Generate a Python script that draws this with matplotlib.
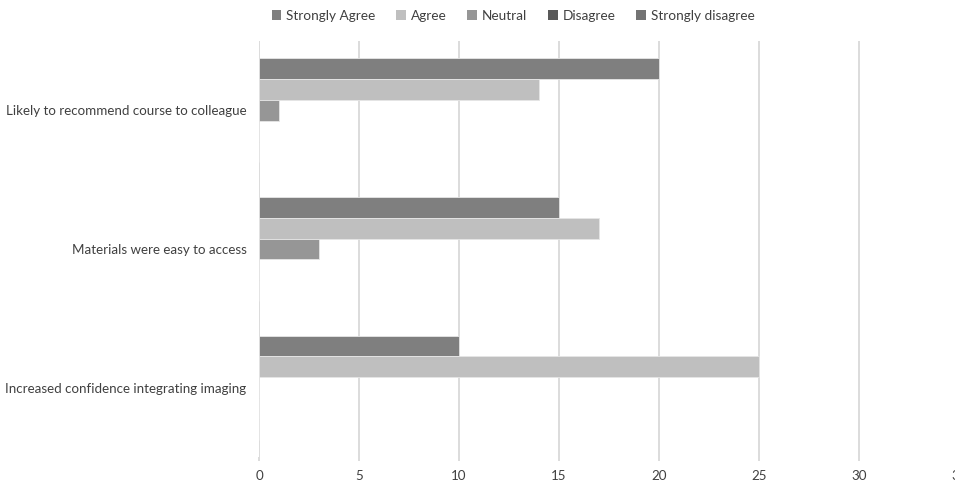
import matplotlib
matplotlib.use("Agg")
import matplotlib.pyplot as plt
import numpy as np

plt.rcParams['font.family'] = ['Lato', 'DejaVu Sans']

categories = [
    "Likely to recommend course to colleague",
    "Materials were easy to access",
    "Increased confidence integrating imaging",
]
series_names = ["Strongly Agree", "Agree", "Neutral", "Disagree", "Strongly disagree"]
strongly_agree = [20, 15, 10]
agree = [14, 17, 25]
neutral = [1, 3, 0]
disagree = [0, 0, 0]
strongly_disagree = [0, 0, 0]
x_ticks = [0, 5, 10, 15, 20, 25, 30, 35]

series_values = [strongly_agree, agree, neutral, disagree, strongly_disagree]
colors = ["#7f7f7f", "#bfbfbf", "#969696", "#595959", "#737373"]
text_color = "#404040"

W, H = 955, 483
fig = plt.figure(figsize=(W / 100, H / 100), dpi=100)
ax = fig.add_axes([259 / W, 1 - 457 / H, 700 / W, 416 / H])

n = len(series_names)
bar_h = 0.75 / n
y_base = np.arange(len(categories))
for i, (name, vals, c) in enumerate(zip(series_names, series_values, colors)):
    offs = -0.375 + bar_h * (i + 0.5)
    ax.barh(y_base + offs, vals, height=bar_h, color=c, label=name,
            edgecolor="#e6e6e6", linewidth=0.6, zorder=3)

ax.set_ylim(len(categories) - 0.5, -0.5)
ax.set_xlim(0, 35)
ax.set_xticks(x_ticks)
ax.set_xticklabels([str(t) for t in x_ticks])
ax.set_yticks(y_base)
ax.set_yticklabels(categories)

# vertical gridlines run a little below the plot area
ax.grid(axis="x", color="#d9d9d9", linewidth=1.3, zorder=0)
ax.tick_params(axis="x", length=3, width=1.3, color="#d9d9d9", direction="out")
for s in ax.spines.values():
    s.set_visible(False)
ax.tick_params(axis="y", length=0)
ax.tick_params(axis="both", labelcolor=text_color, labelsize=9.6)
ax.tick_params(axis="x", pad=6)
ax.tick_params(axis="y", pad=9)

leg = fig.legend(loc="center", bbox_to_anchor=(513 / W, 1 - 16 / H), ncol=5,
                 frameon=False, fontsize=9.8, handlelength=0.7, handleheight=0.7,
                 handletextpad=0.35, columnspacing=1.55, labelcolor=text_color)
for p in leg.get_patches():
    p.set_edgecolor("none")

fig.savefig("out.png", dpi=100)
